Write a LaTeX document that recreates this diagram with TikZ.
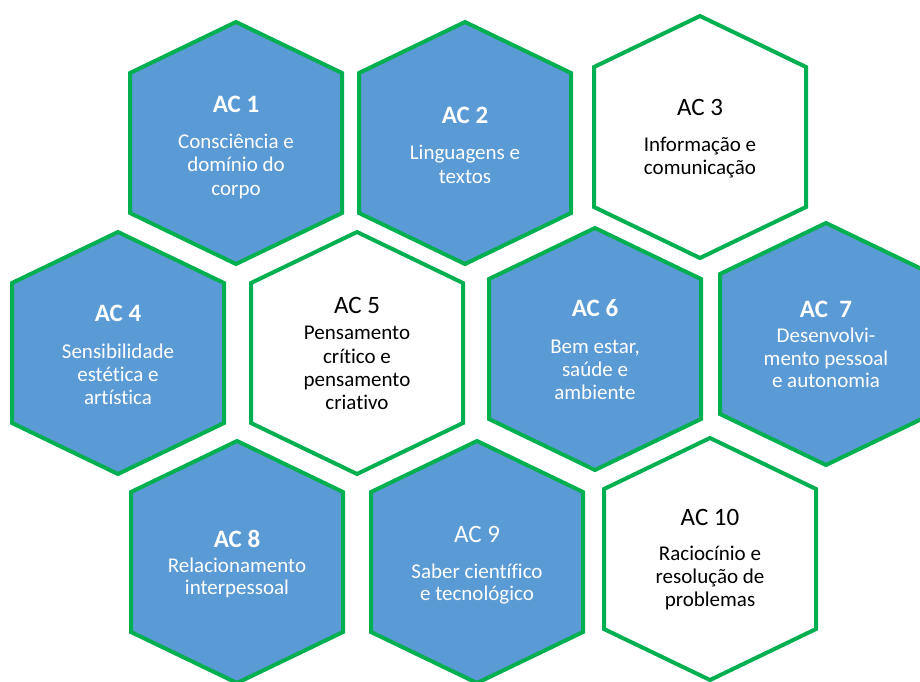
\documentclass[tikz,border=0pt]{standalone}
\usepackage{fontspec}
\setmainfont{Carlito}[Ligatures=NoCommon]
\definecolor{hexblue}{HTML}{5B9BD5}
\definecolor{hexgreen}{HTML}{00B050}
\tikzset{
  hexshape/.pic={\path[pic actions] (0,-121) -- (106,-70) -- (106,70) -- (0,121) -- (-106,70) -- (-106,-70) -- cycle;},
  hexb/.style={draw=hexgreen, line width=4pt, fill=hexblue, line join=miter},
  hexw/.style={draw=hexgreen, line width=4pt, fill=white, line join=miter},
  ttl/.style={anchor=base, inner sep=0pt, font=\fontsize{25}{30}\selectfont},
  bdy/.style={anchor=base, inner sep=0pt, font=\fontsize{21}{24}\selectfont},
  wt/.style={text=white},
  bk/.style={text=black},
}
\begin{document}
\begin{tikzpicture}[x=1pt,y=-1pt]
\useasboundingbox (0,0) rectangle (920,681);
\clip (0,0) rectangle (920,681);
\fill[white] (0,0) rectangle (920,681);
% centres
\coordinate (h1) at (236,143);
\coordinate (h2) at (465,143);
\coordinate (h3) at (700,137);
\coordinate (h4) at (118,353);
\coordinate (h5) at (357,353);
\coordinate (h6) at (595,349);
\coordinate (h7) at (826,344);
\coordinate (h8) at (237,562);
\coordinate (h9) at (477,562);
\coordinate (h10) at (710,559);
% hexagons
\pic[hexb] at (h1) {hexshape};
\pic[hexb] at (h2) {hexshape};
\pic[hexw] at (h3) {hexshape};
\pic[hexb] at (h4) {hexshape};
\pic[hexw] at (h5) {hexshape};
\pic[hexb] at (h6) {hexshape};
\pic[hexb] at (h7) {hexshape};
\pic[hexb] at (h8) {hexshape};
\pic[hexb] at (h9) {hexshape};
\pic[hexw] at (h10) {hexshape};
% AC1
\node[ttl,wt,font=\fontsize{25}{30}\selectfont\bfseries] (t1) at (236,112) {AC 1};
\node[bdy,wt] (b1a) at (236,148) {Consciência e};
\node[bdy,wt] (b1b) at (236,171) {domínio do};
\node[bdy,wt] (b1c) at (236,195) {corpo};
% AC2
\node[ttl,wt,font=\fontsize{25}{30}\selectfont\bfseries] (t2) at (465,123) {AC 2};
\node[bdy,wt] (b2a) at (465,159) {Linguagens e};
\node[bdy,wt] (b2b) at (465,183) {textos};
% AC3
\node[ttl,bk] (t3) at (700,115) {AC 3};
\node[bdy,bk] (b3a) at (700,151) {Informação e};
\node[bdy,bk] (b3b) at (700,174) {comunicação};
% AC4
\node[ttl,wt,font=\fontsize{25}{30}\selectfont\bfseries] (t4) at (118,321) {AC 4};
\node[bdy,wt] (b4a) at (118,358) {Sensibilidade};
\node[bdy,wt] (b4b) at (118,381) {estética e};
\node[bdy,wt] (b4c) at (118,404) {artística};
% AC5
\node[ttl,bk] (t5) at (357,313) {AC 5};
\node[bdy,bk] (b5a) at (357,339) {Pensamento};
\node[bdy,bk] (b5b) at (357,363) {crítico e};
\node[bdy,bk] (b5c) at (357,386) {pensamento};
\node[bdy,bk] (b5d) at (357,409) {criativo};
% AC6
\node[ttl,wt,font=\fontsize{25}{30}\selectfont\bfseries] (t6) at (595,316) {AC 6};
\node[bdy,wt] (b6a) at (595,353) {Bem estar,};
\node[bdy,wt] (b6b) at (595,376) {saúde e};
\node[bdy,wt] (b6c) at (595,399) {ambiente};
% AC7
\node[ttl,wt,font=\fontsize{25}{30}\selectfont\bfseries] (t7) at (826,317) {AC\ \ 7};
\node[bdy,wt] (b7a) at (826,342) {Desenvolvi-};
\node[bdy,wt] (b7b) at (826,365) {mento pessoal};
\node[bdy,wt] (b7c) at (826,387) {e autonomia};
% AC8
\node[ttl,wt,font=\fontsize{25}{30}\selectfont\bfseries] (t8) at (237,547) {AC 8};
\node[bdy,wt] (b8a) at (237,572) {Relacionamento};
\node[bdy,wt] (b8b) at (237,594) {interpessoal};
% AC9
\node[ttl,wt] (t9) at (477,542) {AC 9};
\node[bdy,wt] (b9a) at (477,578) {Saber científico};
\node[bdy,wt] (b9b) at (477,600) {e tecnológico};
% AC10
\node[ttl,bk] (t10) at (710,525) {AC 10};
\node[bdy,bk] (b10a) at (710,560) {Raciocínio e};
\node[bdy,bk] (b10b) at (710,583) {resolução de};
\node[bdy,bk] (b10c) at (710,606) {problemas};
\end{tikzpicture}
\end{document}
